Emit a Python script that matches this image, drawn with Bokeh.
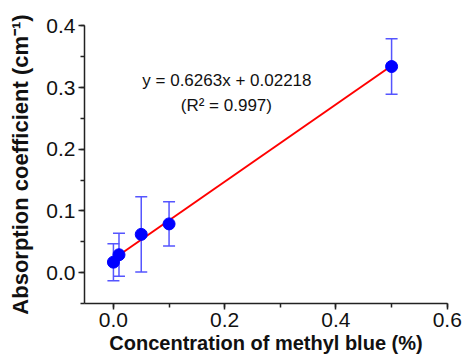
from bokeh.plotting import figure
from bokeh.models import Range1d, Label, Whisker, ColumnDataSource, SingleIntervalTicker, CustomJSTickFormatter
from bokeh.embed import file_html
from bokeh.resources import INLINE

conc = [0.0, 0.01, 0.05, 0.1, 0.5]
absorb = [0.017, 0.029, 0.062, 0.079, 0.334]
err = [0.030, 0.035, 0.061, 0.036, 0.045]
slope = 0.6263
intercept = 0.02218
fit_x = [0.0, 0.5]
eq_text = "y = 0.6263x + 0.02218"
r2_text = "(R\u00b2 = 0.997)"

FONT = "Liberation Sans"

p = figure(frame_width=363, frame_height=278, output_backend="svg", toolbar_location=None,
           x_range=Range1d(-0.052, 0.6005), y_range=Range1d(-0.05, 0.4005),
           min_border_left=84, min_border_right=16, min_border_top=25, min_border_bottom=50)
p.outline_line_color = None
p.grid.visible = False
p.background_fill_color = "white"
p.border_fill_color = "white"

src = ColumnDataSource(dict(x=conc, y=absorb,
                            lo=[a - e for a, e in zip(absorb, err)],
                            hi=[a + e for a, e in zip(absorb, err)]))

fit_y = [slope * x + intercept for x in fit_x]
p.line(fit_x, fit_y, line_color="#ff0000", line_width=2)

w = Whisker(source=src, base="x", lower="lo", upper="hi",
            line_color="#5555ff", line_width=1.5)
for h in (w.upper_head, w.lower_head):
    h.size = 12
    h.line_color = "#5555ff"
    h.line_width = 1.5
p.add_layout(w)

p.scatter("x", "y", source=src, size=12, fill_color="#0000ff", line_color="#0000ff")

for ax in (p.xaxis[0], p.yaxis[0]):
    ax.axis_line_width = 1.5
    ax.axis_line_color = "#222222"
    ax.major_tick_line_color = "#222222"
    ax.minor_tick_line_color = "#222222"
    ax.major_tick_line_width = 1.5
    ax.minor_tick_line_width = 1.5
    ax.major_tick_in = 0
    ax.major_tick_out = 6
    ax.minor_tick_in = 0
    ax.minor_tick_out = 4
    ax.major_label_text_font = FONT
    ax.major_label_text_font_size = "21px"
    ax.major_label_text_color = "#111111"
    ax.axis_label_text_font = FONT
    ax.axis_label_text_font_style = "bold"
    ax.axis_label_text_color = "#111111"

p.xaxis[0].axis_label_text_font_size = "20px"
p.yaxis[0].axis_label_text_font_size = "22px"
p.xaxis[0].ticker = SingleIntervalTicker(interval=0.2, num_minor_ticks=2)
p.yaxis[0].ticker = SingleIntervalTicker(interval=0.1, num_minor_ticks=2)
p.xaxis[0].formatter = CustomJSTickFormatter(code="return tick.toFixed(1);")
p.yaxis[0].formatter = CustomJSTickFormatter(code="return tick.toFixed(1);")
p.xaxis.axis_label = "Concentration of methyl blue (%)"
p.yaxis.axis_label = "Absorption coefficient (cm\u207b\u00b9)"
p.xaxis.major_label_standoff = 3
p.yaxis.major_label_standoff = 3
p.xaxis.axis_label_standoff = 2
p.yaxis.axis_label_standoff = 10

p.add_layout(Label(x=0.204, y=0.312, text=eq_text, text_font=FONT, text_font_size="17px",
                   text_align="center", text_baseline="middle", text_color="#111111"))
p.add_layout(Label(x=0.203, y=0.271, text=r2_text, text_font=FONT, text_font_size="17px",
                   text_align="center", text_baseline="middle", text_color="#111111"))

open("out.html", "w").write(file_html(p, INLINE))
